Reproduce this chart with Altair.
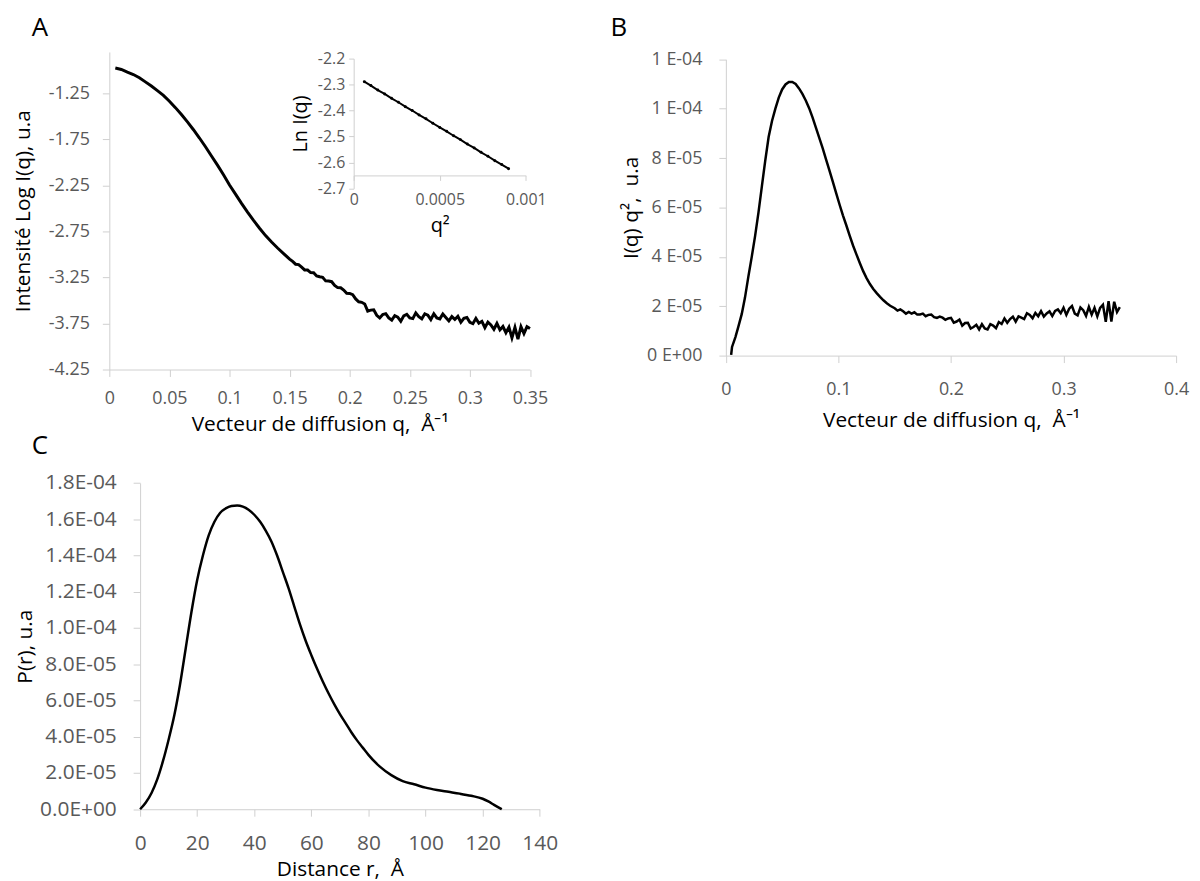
import altair as alt
import pandas as pd

# ---------------- data ----------------
# Panel A : log10 I(q) vs q
A_Q = [0.005, 0.010, 0.015, 0.020, 0.025, 0.030, 0.035, 0.040, 0.045, 0.050,
       0.055, 0.060, 0.065, 0.070, 0.075, 0.080, 0.085, 0.090, 0.095, 0.100,
       0.105, 0.110, 0.115, 0.120, 0.125, 0.130, 0.135, 0.140, 0.145, 0.150,
       0.1525, 0.155, 0.1575, 0.160, 0.1625, 0.165, 0.1675, 0.170, 0.1725, 0.175,
       0.1775, 0.180, 0.1825, 0.185, 0.1875, 0.190, 0.1925, 0.195, 0.1975, 0.200,
       0.2025, 0.205, 0.2075, 0.210, 0.2125, 0.215, 0.2175, 0.220, 0.2225, 0.225,
       0.2275, 0.230, 0.2325, 0.235, 0.2375, 0.240, 0.2425, 0.245, 0.2475, 0.250,
       0.2525, 0.255, 0.2575, 0.260, 0.2625, 0.265, 0.2675, 0.270, 0.2725, 0.275,
       0.2775, 0.280, 0.2825, 0.285, 0.2875, 0.290, 0.2925, 0.295, 0.2975, 0.300,
       0.3025, 0.305, 0.3075, 0.310, 0.3125, 0.315, 0.3175, 0.320, 0.3225, 0.325,
       0.3275, 0.330, 0.3325, 0.335, 0.3375, 0.340, 0.3425, 0.345, 0.3475, 0.350]
A_LOGI = [-0.975, -0.990, -1.020, -1.045, -1.080, -1.125, -1.170, -1.220, -1.272, -1.335,
          -1.405, -1.480, -1.560, -1.645, -1.735, -1.830, -1.930, -2.030, -2.135, -2.245,
          -2.345, -2.445, -2.540, -2.630, -2.715, -2.795, -2.865, -2.930, -2.990, -3.050,
          -3.076, -3.106, -3.110, -3.138, -3.168, -3.169, -3.197, -3.198, -3.233, -3.242,
          -3.249, -3.287, -3.289, -3.296, -3.336, -3.360, -3.362, -3.387, -3.422, -3.424,
          -3.437, -3.483, -3.514, -3.520, -3.538, -3.615, -3.605, -3.602, -3.661, -3.690,
          -3.653, -3.643, -3.690, -3.713, -3.666, -3.682, -3.726, -3.667, -3.650, -3.690,
          -3.697, -3.635, -3.675, -3.700, -3.645, -3.660, -3.707, -3.645, -3.690, -3.700,
          -3.647, -3.685, -3.722, -3.675, -3.706, -3.672, -3.737, -3.693, -3.685, -3.737,
          -3.752, -3.695, -3.748, -3.727, -3.795, -3.735, -3.765, -3.813, -3.750, -3.820,
          -3.783, -3.850, -3.790, -3.905, -3.793, -3.920, -3.785, -3.860, -3.785, -3.805]

# Inset : Guinier plot, ln I(q) vs q^2
INSET_Q2 = [0.000062, 0.00010, 0.00014, 0.00018, 0.00022, 0.00026, 0.00030, 0.00034,
            0.00038, 0.00042, 0.00046, 0.00050, 0.00054, 0.00058, 0.00062, 0.00066,
            0.00070, 0.00074, 0.00078, 0.00082, 0.00086, 0.00090]
INSET_LNI = [-2.289, -2.304, -2.321, -2.336, -2.353, -2.368, -2.385, -2.400,
             -2.417, -2.432, -2.449, -2.465, -2.480, -2.497, -2.512, -2.529,
             -2.544, -2.561, -2.576, -2.593, -2.608, -2.624]

# Panel B : Kratky plot, I(q) q^2 (in units of 1e-6) vs q
B_Q = [0.0047, 0.0055, 0.0085, 0.011, 0.0141, 0.017, 0.020, 0.023, 0.026, 0.029,
       0.032, 0.035, 0.038, 0.041, 0.044, 0.047, 0.050, 0.053, 0.056, 0.059,
       0.062, 0.065, 0.068, 0.071, 0.074, 0.077, 0.080, 0.083, 0.086, 0.089,
       0.092, 0.095, 0.098, 0.101, 0.104, 0.107, 0.110, 0.113, 0.116, 0.119,
       0.122, 0.125, 0.128, 0.131, 0.134, 0.137, 0.140, 0.143, 0.146,
       0.1500, 0.1525, 0.1550, 0.1575, 0.1600, 0.1625, 0.1650, 0.1675, 0.1700, 0.1725,
       0.1750, 0.1775, 0.1800, 0.1825, 0.1850, 0.1875, 0.1900, 0.1925, 0.1950, 0.1975,
       0.2000, 0.2025, 0.2050, 0.2075, 0.2100, 0.2125, 0.2150, 0.2175, 0.2200, 0.2225,
       0.2250, 0.2275, 0.2300, 0.2325, 0.2350, 0.2375, 0.2400, 0.2425, 0.2450, 0.2475,
       0.2500, 0.2525, 0.2550, 0.2575, 0.2600, 0.2625, 0.2650, 0.2675, 0.2700, 0.2725,
       0.2750, 0.2775, 0.2800, 0.2825, 0.2850, 0.2875, 0.2900, 0.2925, 0.2950, 0.2975,
       0.3000, 0.3025, 0.3050, 0.3075, 0.3100, 0.3125, 0.3150, 0.3175, 0.3200, 0.3225,
       0.3250, 0.3275, 0.3300, 0.3325, 0.3350, 0.3375, 0.3400, 0.3425, 0.3450, 0.3475,
       0.3500]
B_IQ2_E6 = [0.3, 3.5, 7.5, 11.5, 16.8, 23.5, 32.0, 40.0, 48.5, 58.0,
            68.5, 79.0, 88.5, 95.0, 100.0, 104.5, 107.8, 109.8, 110.8, 110.8,
            110.0, 108.2, 106.0, 103.3, 100.2, 96.5, 92.3, 88.2, 84.0, 79.5,
            75.0, 70.5, 65.8, 61.2, 56.8, 52.8, 48.6, 44.6, 41.0, 37.5,
            34.2, 31.4, 29.0, 27.0, 25.3, 23.8, 22.4, 21.2, 20.2,
            19.2, 18.2, 18.7, 17.95, 17.0, 17.65, 17.0, 17.55, 16.6, 16.65,
            17.0, 15.95, 16.5, 16.6, 15.6, 15.3, 15.8, 15.35, 14.5, 15.05,
            15.3, 13.35, 13.8, 14.6, 12.1, 13.2, 13.3, 10.95, 11.6, 12.45,
            10.6, 12.7, 11.0, 10.6, 12.7, 12.15, 11.1, 13.6, 12.8, 15.05,
            13.3, 14.8, 15.8, 13.75, 15.9, 15.35, 14.8, 17.15, 16.5, 15.15,
            17.3, 15.95, 18.0, 15.8, 17.1, 17.9, 16.0, 18.1, 18.7, 17.15,
            19.4, 16.5, 19.0, 20.1, 17.0, 16.3, 19.5, 18.4, 16.1, 19.7,
            16.6, 19.35, 15.9, 19.35, 20.6, 13.7, 22.0, 13.8, 21.8, 17.65,
            19.6]

# Panel C : pair distance distribution P(r) (in units of 1e-6) vs r
C_R = [0, 2, 4, 6, 8, 10, 12, 14, 16, 18,
       20, 22, 24, 26, 28, 30, 32, 34, 36, 38,
       40, 42, 44, 46, 48, 50, 52, 54, 56, 58,
       60, 62, 64, 66, 68, 70, 72, 74, 76, 78,
       80, 84, 88, 92, 96, 100, 104, 108, 112, 116,
       120, 122, 124, 126, 126.7]
C_PR_E6 = [0, 3.7, 9.0, 16.5, 26.5, 38.5, 52.0, 69.0, 89.0, 109.0,
           126.5, 140.0, 151.0, 158.5, 163.5, 166.0, 167.3, 167.6, 167.0, 165.3,
           162.5, 158.8, 153.8, 147.8, 140.0, 131.0, 122.0, 112.0, 102.0, 93.0,
           85.0, 77.5, 70.5, 64.0, 58.0, 52.5, 47.5, 42.5, 38.0, 34.0,
           30.0, 23.5, 18.8, 15.5, 13.8, 11.9, 10.6, 9.6, 8.6, 7.4,
           5.8, 4.3, 2.4, 0.6, 0]

# tick values
A_XTICKS = [0, 0.05, 0.1, 0.15, 0.2, 0.25, 0.3, 0.35]
A_YTICKS = [-4.25, -3.75, -3.25, -2.75, -2.25, -1.75, -1.25]
INSET_XTICKS = [0, 0.0005, 0.001]
INSET_YTICKS = [-2.7, -2.6, -2.5, -2.4, -2.3, -2.2]
B_XTICKS = [0, 0.1, 0.2, 0.3, 0.4]
B_YTICKS = [0, 2e-5, 4e-5, 6e-5, 8e-5, 1e-4, 1.2e-4]
C_XTICKS = [0, 20, 40, 60, 80, 100, 120, 140]
C_YTICKS = [0, 2e-5, 4e-5, 6e-5, 8e-5, 1e-4, 1.2e-4, 1.4e-4, 1.6e-4, 1.8e-4]
PANEL_LETTERS = ["A", "B", "C"]

A_XTITLE = "Vecteur de diffusion q,\u00a0 Å⁻¹"
A_YTITLE = "Intensité Log I(q), u.a"
INSET_XTITLE = "q²"
INSET_YTITLE = "Ln I(q)"
B_XTITLE = "Vecteur de diffusion q,\u00a0 Å⁻¹"
B_YTITLE = "I(q) q²,\u00a0 u.a"
C_XTITLE = "Distance r,\u00a0 Å"
C_YTITLE = "P(r), u.a"

# ---------------- layout (pixels inside one canvas) ----------------
W, H = 1192, 873
FONT = "Open Sans"
AXIS_GREY = "#d0d0d0"
LABEL_GREY = "#595959"


def axis(orient, offset, values, title, lsize, tsize, tick, lpad, tpad, fmt=None, expr=None):
    kw = dict(orient=orient, offset=offset, values=values, title=title,
              labelFontSize=lsize, titleFontSize=tsize, tickSize=tick,
              labelPadding=lpad, titlePadding=tpad, grid=False,
              domainColor=AXIS_GREY, tickColor=AXIS_GREY, labelColor=LABEL_GREY,
              titleColor="black", titleFontWeight="normal", labelFont=FONT,
              titleFont=FONT, labelFlush=False, labelOverlap=False)
    if fmt is not None:
        kw["format"] = fmt
    if expr is not None:
        kw["labelExpr"] = expr
    return alt.Axis(**kw)


def scale(domain, rng):
    return alt.Scale(domain=domain, range=rng, nice=False, zero=False)


df_a = pd.DataFrame({"q": A_Q, "v": A_LOGI})
df_in = pd.DataFrame({"q2": INSET_Q2, "v": INSET_LNI})
df_b = pd.DataFrame({"q": B_Q, "v": [x * 1e-6 for x in B_IQ2_E6]})
df_c = pd.DataFrame({"r": C_R, "v": [x * 1e-6 for x in C_PR_E6]})

# Panel A
a_line = alt.Chart(df_a).mark_line(color="black", strokeWidth=3).encode(
    x=alt.X("q:Q", scale=scale([0, 0.35], [102, 525.5]),
            axis=axis("bottom", 361 - H, A_XTICKS, A_XTITLE, 18, 21, 7, 13, 6, fmt="~g")),
    y=alt.Y("v:Q", scale=scale([-4.25, -0.8], [361, 41.3]),
            axis=axis("left", -102, A_YTICKS, A_YTITLE, 18, 21, 7, 13, 15,
                      expr="replace(format(datum.value, '.2f'), '\u2212', '-')")),
)

# Inset of panel A
inset_line = alt.Chart(df_in).mark_line(
    color="black", strokeWidth=2,
    point=alt.OverlayMarkDef(filled=True, size=9, color="black")).encode(
    x=alt.X("q2:Q", scale=scale([0, 0.001], [348, 521.3]),
            axis=axis("bottom", 165.6 - H, INSET_XTICKS, INSET_XTITLE, 16, 20, 5, 11, 8, fmt="~g")),
    y=alt.Y("v:Q", scale=scale([-2.7, -2.2], [178.7, 48]),
            axis=axis("left", -348, INSET_YTICKS, INSET_YTITLE, 16, 20, 5, 4, 7,
                      expr="replace(format(datum.value, '.1f'), '\u2212', '-')")),
)

# Panel B
b_line = alt.Chart(df_b).mark_line(color="black", strokeWidth=2.5).encode(
    x=alt.X("q:Q", scale=scale([0, 0.4], [722.7, 1176]),
            axis=axis("bottom", 347 - H, B_XTICKS, B_XTITLE, 18, 21, 7, 18, 11, fmt="~g")),
    y=alt.Y("v:Q", scale=scale([0, 1.2e-4], [347, 48.7]),
            axis=axis("left", -722.7, B_YTICKS, B_YTITLE, 18, 21, 7, 17, 5,
                      expr="replace(replace(format(datum.value, '.0e'), 'e-', ' E-0'), 'e+', ' E+0')")),
)

# Panel C
c_line = alt.Chart(df_c).mark_line(color="black", strokeWidth=2.5, interpolate="monotone").encode(
    x=alt.X("r:Q", scale=scale([0, 140], [133, 535.3]),
            axis=axis("bottom", 803.7 - H, C_XTICKS, C_XTITLE, 21, 21, 7, 17, 5, fmt="d")),
    y=alt.Y("v:Q", scale=scale([0, 1.8e-4], [803.7, 475.3]),
            axis=axis("left", -133, C_YTICKS, C_YTITLE, 21, 21, 7, 17, 4,
                      expr="replace(replace(format(datum.value, '.1e'), 'e-', 'E-0'), 'e+', 'E+0')")),
)

LETTER_POS = {"A": (32, 17), "B": (615, 17), "C": (32, 438)}
letters = []
for L in PANEL_LETTERS:
    px, py = LETTER_POS[L]
    letters.append(
        alt.Chart(pd.DataFrame({"t": [L]})).mark_text(
            font=FONT, fontSize=26, color="black", align="center", baseline="middle"
        ).encode(text="t:N", x=alt.value(px), y=alt.value(py))
    )

chart = alt.layer(a_line, inset_line, b_line, c_line, *letters).resolve_scale(
    x="independent", y="independent"
).properties(
    width=W, height=H, padding=0, autosize=alt.AutoSizeParams(type="none")
).configure(
    font=FONT, background="white", view=alt.ViewConfig(stroke="transparent")
)

chart.save("out.html", embed_options={"renderer": "svg", "actions": False})
